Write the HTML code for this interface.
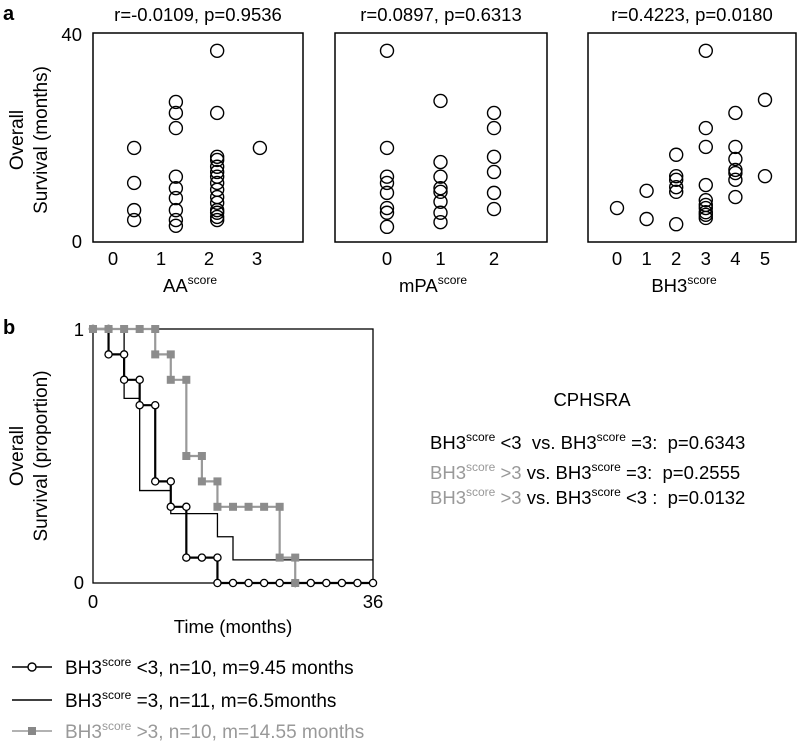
<!DOCTYPE html>
<html><head><meta charset="utf-8"><style>
body{margin:0;background:#fff}
svg{display:block;font-family:"Liberation Sans",sans-serif}
text{white-space:pre}
</style></head><body>
<svg id="fig" width="798" height="742" viewBox="0 0 798 742">
<text x="3" y="20" font-size="20" font-weight="bold">a</text>
<text x="3" y="334" font-size="20" font-weight="bold">b</text>
<g>
<text transform="translate(23,140) rotate(-90)" text-anchor="middle" font-size="19">Overall</text>
<text transform="translate(47,140) rotate(-90)" text-anchor="middle" font-size="19">Survival (months)</text>
</g>
<g>
<text transform="translate(23,456) rotate(-90)" text-anchor="middle" font-size="19">Overall</text>
<text transform="translate(47,456) rotate(-90)" text-anchor="middle" font-size="19">Survival (proportion)</text>
</g>
<g id="scatters"></g>
<g id="km"></g>
<g font-size="18.5">
<text x="592" y="406" text-anchor="middle">CPHSRA</text>
<text x="430" y="449">BH3<tspan font-size="12" dy="-8">score</tspan><tspan dy="8"> &lt;3  vs. BH3</tspan><tspan font-size="12" dy="-8">score</tspan><tspan dy="8"> =3:  p=0.6343</tspan></text>
<text x="430" y="479"><tspan fill="#999">BH3</tspan><tspan fill="#999" font-size="12" dy="-8">score</tspan><tspan fill="#999" dy="8"> &gt;3</tspan><tspan> vs. BH3</tspan><tspan font-size="12" dy="-8">score</tspan><tspan dy="8"> =3:  p=0.2555</tspan></text>
<text x="430" y="504"><tspan fill="#999">BH3</tspan><tspan fill="#999" font-size="12" dy="-8">score</tspan><tspan fill="#999" dy="8"> &gt;3</tspan><tspan> vs. BH3</tspan><tspan font-size="12" dy="-8">score</tspan><tspan dy="8"> &lt;3 :  p=0.0132</tspan></text>
</g>
<g font-size="19">
<g>
<line x1="12" y1="667" x2="52" y2="667" stroke="#000" stroke-width="1.6"/>
<circle cx="32" cy="667" r="4" fill="#fff" stroke="#000" stroke-width="1.4"/>
<text x="65" y="674">BH3<tspan font-size="12" dy="-8">score</tspan><tspan dy="8"> &lt;3, n=10, m=9.45 months</tspan></text>
</g>
<g>
<line x1="12" y1="700" x2="52" y2="700" stroke="#000" stroke-width="1.4"/>
<text x="65" y="707">BH3<tspan font-size="12" dy="-8">score</tspan><tspan dy="8"> =3, n=11, m=6.5months</tspan></text>
</g>
<g fill="#999">
<line x1="12" y1="731" x2="52" y2="731" stroke="#999" stroke-width="1.6"/>
<rect x="28" y="727" width="8" height="8" fill="#888"/>
<text x="65" y="738">BH3<tspan font-size="12" dy="-8">score</tspan><tspan dy="8"> &gt;3, n=10, m=14.55 months</tspan></text>
</g>
</g>
</svg>
<script>
// Panel a data
const aaX = [0.44,0.44,0.44,0.44, 1.31,1.31,1.31,1.31,1.31,1.31,1.31,1.31,1.31, 2.17,2.17,2.17,2.17,2.17,2.17,2.17,2.17,2.17,2.17,2.17,2.17,2.17,2.17,2.17, 3.06];
const aaY = [18,11.3,6.1,4.2, 26.8,24.7,21.8,12.5,10.3,8.4,6.1,4.2,3.1, 36.6,24.7,16.3,15.7,14.4,13.4,12.5,11.3,10,8.6,7.5,6.1,5.6,4.8,4.2, 18];
const mpaX = [0,0,0,0,0,0,0,0, 1,1,1,1,1,1,1,1, 2,2,2,2,2,2];
const mpaY = [36.6,18,12.5,11.3,9.4,6.5,5.6,2.9, 27,15.3,12.5,10.3,9.6,7.7,5.6,3.8, 24.7,21.8,16.3,13.4,9.4,6.3];
const bh3X = [0, 1,1, 2,2,2,2,2,2, 3,3,3,3,3,3,3,3,3,3, 4,4,4,4,4,4,4, 5,5];
const bh3Y = [6.5, 9.8,4.4, 16.7,12.6,11.9,10.5,9.6,3.4, 36.6,21.8,18.2,10.9,8,7.1,6.5,5.7,5.2,4.6, 24.7,18.2,15.9,13.8,13.2,11.9,8.6, 27.2,12.6];
const aaTicks = ["0","1","2","3"];
const mpaTicks = ["0","1","2"];
const bh3Ticks = ["0","1","2","3","4","5"];
const titles = ["r=-0.0109, p=0.9536","r=0.0897, p=0.6313","r=0.4223, p=0.0180"];
const axisNames = ["AA","mPA","BH3"];
// Panel b data (step vertices)
const ltTimes = [0,2,2,4,4,6,6,8,8,10,10,12,12,14,16,16,18,20,22,24,26,28,30,32,34,36];
const ltSurv  = [1,1,.9,.9,.8,.8,.7,.7,.4,.4,.3,.3,.1,.1,.1,0,0,0,0,0,0,0,0,0,0,0];
const eqTimes = [0,4,4,6,6,10,10,16,16,18,18,36];
const eqSurv  = [1,1,.727,.727,.364,.364,.273,.273,.182,.182,.091,.091];
const gtTimes = [0,2,4,6,8,8,10,10,12,12,14,14,16,16,18,20,22,24,24,26,26];
const gtSurv  = [1,1,1,1,1,.9,.9,.8,.8,.5,.5,.4,.4,.3,.3,.3,.3,.3,.1,.1,0];

const NS="http://www.w3.org/2000/svg";
function mk(tag, attrs, parent){const e=document.createElementNS(NS,tag);for(const k in attrs)e.setAttribute(k,attrs[k]);parent.appendChild(e);return e;}

const panels = [
 {x0:93,x1:303,tick0:113,step:48,xs:aaX,ys:aaY,ticks:aaTicks},
 {x0:335,x1:547,tick0:387,step:53.5,xs:mpaX,ys:mpaY,ticks:mpaTicks},
 {x0:588,x1:796,tick0:617,step:29.6,xs:bh3X,ys:bh3Y,ticks:bh3Ticks}
];
const yTop=33, yBot=242, yMax=40;
const sg=document.getElementById('scatters');
panels.forEach((p,pi)=>{
  const g=mk('g',{},sg);
  
  
  const sx=v=>p.tick0+v*p.step;
  const sy=v=>yBot-(v/yMax)*(yBot-yTop);
  const box=mk('rect',{x:p.x0,y:yTop,width:p.x1-p.x0,height:yBot-yTop,fill:'none',stroke:'#000','stroke-width':1.5},g);
  
  
  const t=mk('text',{x:(p.x0+p.x1)/2,y:21,'text-anchor':'middle','font-size':18.5},g);
  t.textContent=titles[pi];
  
  
  p.ticks.forEach((lb,i)=>{
    const tt=mk('text',{x:sx(i),y:265,'text-anchor':'middle','font-size':18.5},g);
    tt.textContent=lb;
    
    
  });
  const xt=mk('text',{x:(p.x0+p.x1)/2-8,y:292,'text-anchor':'middle','font-size':18.5},g);
  xt.innerHTML=axisNames[pi]+'<tspan font-size="12" dy="-8">score</tspan>';
  
  
  if(pi===0){
    const a=mk('text',{x:82,y:41,'text-anchor':'end','font-size':18.5},g);a.textContent='40';
    
    
    const b=mk('text',{x:82,y:248,'text-anchor':'end','font-size':18.5},g);b.textContent='0';
    
    
  }
  p.xs.forEach((xv,i)=>{
    const c=mk('circle',{cx:sx(xv),cy:sy(p.ys[i]),r:6.5,fill:'none',stroke:'#000','stroke-width':1.4},g);
    
    
  });
});

// KM
const kg=document.getElementById('km');
const kx0=93,kx1=373,ky0=583,ky1=329,tMax=36;
const kx=t=>kx0+t/tMax*(kx1-kx0);
const ky=s=>ky0-s*(ky0-ky1);
const kbox=mk('rect',{x:kx0,y:ky1,width:kx1-kx0,height:ky0-ky1,fill:'none',stroke:'#000','stroke-width':1.3},kg);


[['1',ky(1)+7],['0',ky(0)+6]].forEach(([l,y])=>{
  const e=mk('text',{x:84,y:y,'text-anchor':'end','font-size':18.5},kg);e.textContent=l;
  
  
});
[['0',0],['36',36]].forEach(([l,t])=>{
  const e=mk('text',{x:kx(t),y:608,'text-anchor':'middle','font-size':18.5},kg);e.textContent=l;
  
  
});
const xtt=mk('text',{x:233,y:633,'text-anchor':'middle','font-size':18.5},kg);xtt.textContent='Time (months)';



function pts(ts,ss){return ts.map((t,i)=>kx(t)+','+ky(ss[i])).join(' ');}
const eqL=mk('polyline',{points:pts(eqTimes,eqSurv),fill:'none',stroke:'#000','stroke-width':1.3},kg);


const ltL=mk('polyline',{points:pts(ltTimes,ltSurv),fill:'none',stroke:'#000','stroke-width':2.2},kg);


ltTimes.forEach((t,i)=>{
  const c=mk('circle',{cx:kx(t),cy:ky(ltSurv[i]),r:3.6,fill:'#fff',stroke:'#000','stroke-width':1.3},kg);
  
  
});
const gtL=mk('polyline',{points:pts(gtTimes,gtSurv),fill:'none',stroke:'#999','stroke-width':2.2},kg);


gtTimes.forEach((t,i)=>{
  const r=mk('rect',{x:kx(t)-4,y:ky(gtSurv[i])-4,width:8,height:8,fill:'#8c8c8c'},kg);
  
  
});
</script>
</body></html>
